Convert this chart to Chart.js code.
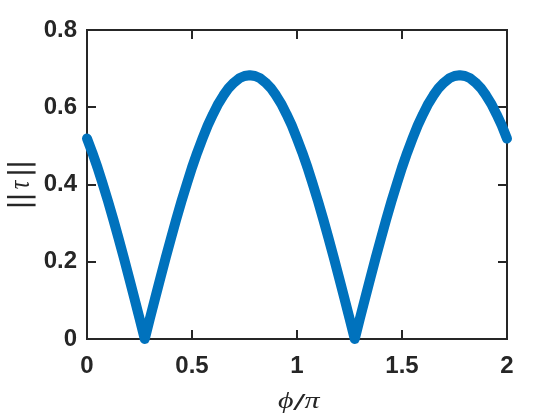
<!DOCTYPE html>
<html>
<head>
<meta charset="utf-8">
<script src="https://cdn.jsdelivr.net/npm/chart.js@4.4.1/dist/chart.umd.min.js"></script>
<style>
  html, body { margin: 0; padding: 0; background: #fff; }
  #wrap { width: 560px; height: 420px; }
</style>
</head>
<body>
<div id="wrap"><canvas id="chart" width="560" height="420"></canvas></div>
<script>
'use strict';

/* ─── Data ──────────────────────────────────────────────────── */
const PHI = [
  0, 0.025, 0.05, 0.075, 0.1, 0.125, 0.15, 0.175, 0.2, 0.225,
  0.25, 0.275, 0.3, 0.325, 0.35, 0.375, 0.4, 0.425, 0.45, 0.475,
  0.5, 0.525, 0.55, 0.575, 0.6, 0.625, 0.65, 0.675, 0.7, 0.725,
  0.75, 0.775, 0.8, 0.825, 0.85, 0.875, 0.9, 0.925, 0.95, 0.975,
  1.0, 1.025, 1.05, 1.075, 1.1, 1.125, 1.15, 1.175, 1.2, 1.225,
  1.25, 1.275, 1.3, 1.325, 1.35, 1.375, 1.4, 1.425, 1.45, 1.475,
  1.5, 1.525, 1.55, 1.575, 1.6, 1.625, 1.65, 1.675, 1.7, 1.725,
  1.75, 1.775, 1.8, 1.825, 1.85, 1.875, 1.9, 1.925, 1.95, 1.975,
  2.0
];
const TAU = [
  0.519, 0.483, 0.444, 0.401, 0.357, 0.310, 0.261, 0.211, 0.159, 0.107,
  0.054, 0, 0.054, 0.107, 0.159, 0.211, 0.261, 0.310, 0.357, 0.401,
  0.444, 0.483, 0.519, 0.553, 0.582, 0.609, 0.631, 0.650, 0.664, 0.675,
  0.681, 0.683, 0.681, 0.675, 0.664, 0.650, 0.631, 0.609, 0.582, 0.553,
  0.519, 0.483, 0.444, 0.401, 0.357, 0.310, 0.261, 0.211, 0.159, 0.107,
  0.054, 0, 0.054, 0.107, 0.159, 0.211, 0.261, 0.310, 0.357, 0.401,
  0.444, 0.483, 0.519, 0.553, 0.582, 0.609, 0.631, 0.650, 0.664, 0.675,
  0.681, 0.683, 0.681, 0.675, 0.664, 0.650, 0.631, 0.609, 0.582, 0.553,
  0.519
];
const X_TICKS = [0, 0.5, 1, 1.5, 2];
const Y_TICKS = [0, 0.2, 0.4, 0.6, 0.8];

const AXIS_COLOR = '#262626';
const LINE_COLOR = '#0072BD';
const TICK_FONT  = { family: "'Liberation Sans', Arial, sans-serif", size: 24, weight: 'bold' };
const SERIF      = "'Liberation Serif', 'DejaVu Serif', serif";

/* ─── Box + inward ticks on all four sides (drawn under the line) ── */
const frame = {
  id: 'frame',
  beforeDatasetsDraw(chart) {
    const { ctx, chartArea: a, scales: { x, y } } = chart;
    const TL = 9;
    ctx.save();
    ctx.strokeStyle = AXIS_COLOR;
    ctx.lineWidth = 2;
    ctx.strokeRect(a.left, a.top, a.right - a.left, a.bottom - a.top);
    ctx.beginPath();
    X_TICKS.forEach(v => {
      const px = Math.round(x.getPixelForValue(v));
      ctx.moveTo(px, a.bottom); ctx.lineTo(px, a.bottom - TL);
      ctx.moveTo(px, a.top);    ctx.lineTo(px, a.top + TL);
    });
    Y_TICKS.forEach(v => {
      const py = Math.round(y.getPixelForValue(v));
      ctx.moveTo(a.left, py);  ctx.lineTo(a.left + TL, py);
      ctx.moveTo(a.right, py); ctx.lineTo(a.right - TL, py);
    });
    ctx.stroke();
    ctx.restore();
  },
};

/* ─── TeX-style axis titles: ||τ|| and ϕ/π (MATLAB look, stretched) ── */
const titles = {
  id: 'titles',
  afterDraw(chart) {
    const { ctx, chartArea: a } = chart;
    const SX = 1.25;
    ctx.save();
    ctx.fillStyle = AXIS_COLOR;
    ctx.textAlign = 'center';
    ctx.textBaseline = 'alphabetic';

    /* y title, rotated */
    ctx.save();
    ctx.translate(29, (a.top + a.bottom) / 2 + 0.5);
    ctx.scale(SX, 1);
    ctx.rotate(-Math.PI / 2);
    ctx.font = "bold 22px 'DejaVu Sans', sans-serif";
    [-20, -12, 12.5, 20.5].forEach(u => ctx.fillText('|', u, 0));
    ctx.font = `italic 24px ${SERIF}`;
    ctx.fillText('τ', 0, 0);
    ctx.restore();

    /* x title */
    ctx.save();
    ctx.translate((a.left + a.right) / 2, 408);
    ctx.scale(SX, 1);
    ctx.font = `italic 24px ${SERIF}`;
    ctx.fillText('ϕ', -9, 0);
    ctx.font = "bold italic 19px 'DejaVu Sans', sans-serif";
    ctx.fillText('/', 2, 0);
    ctx.font = `italic 24px ${SERIF}`;
    ctx.fillText('π', 12, 0);
    ctx.restore();

    ctx.restore();
  },
};

new Chart(document.getElementById('chart'), {
  type: 'line',
  data: {
    datasets: [{
      data: PHI.map((p, i) => ({ x: p, y: TAU[i] })),
      borderColor: LINE_COLOR,
      borderWidth: 10,
      borderCapStyle: 'round',
      borderJoinStyle: 'round',
      pointRadius: 0,
      tension: 0,
      fill: false,
      clip: false,
    }],
  },
  options: {
    responsive: false,
    animation: false,
    events: [],
    layout: { padding: { left: 0, top: 30, right: 53, bottom: 0 } },
    plugins: { legend: { display: false }, tooltip: { enabled: false } },
    scales: {
      x: {
        type: 'linear', min: 0, max: 2,
        afterFit: s => { s.height = 81; },
        grid: { display: false, drawTicks: false },
        border: { display: false },
        ticks: {
          stepSize: 0.5, padding: 13, color: AXIS_COLOR, font: TICK_FONT,
          maxRotation: 0,
          callback: v => String(v),
        },
      },
      y: {
        min: 0, max: 0.8,
        afterFit: s => { s.width = 87; },
        grid: { display: false, drawTicks: false },
        border: { display: false },
        ticks: {
          stepSize: 0.2, padding: 10, color: AXIS_COLOR, font: TICK_FONT,
          callback: v => String(Math.round(v * 10) / 10),
        },
      },
    },
  },
  plugins: [frame, titles],
});
</script>
</body>
</html>
